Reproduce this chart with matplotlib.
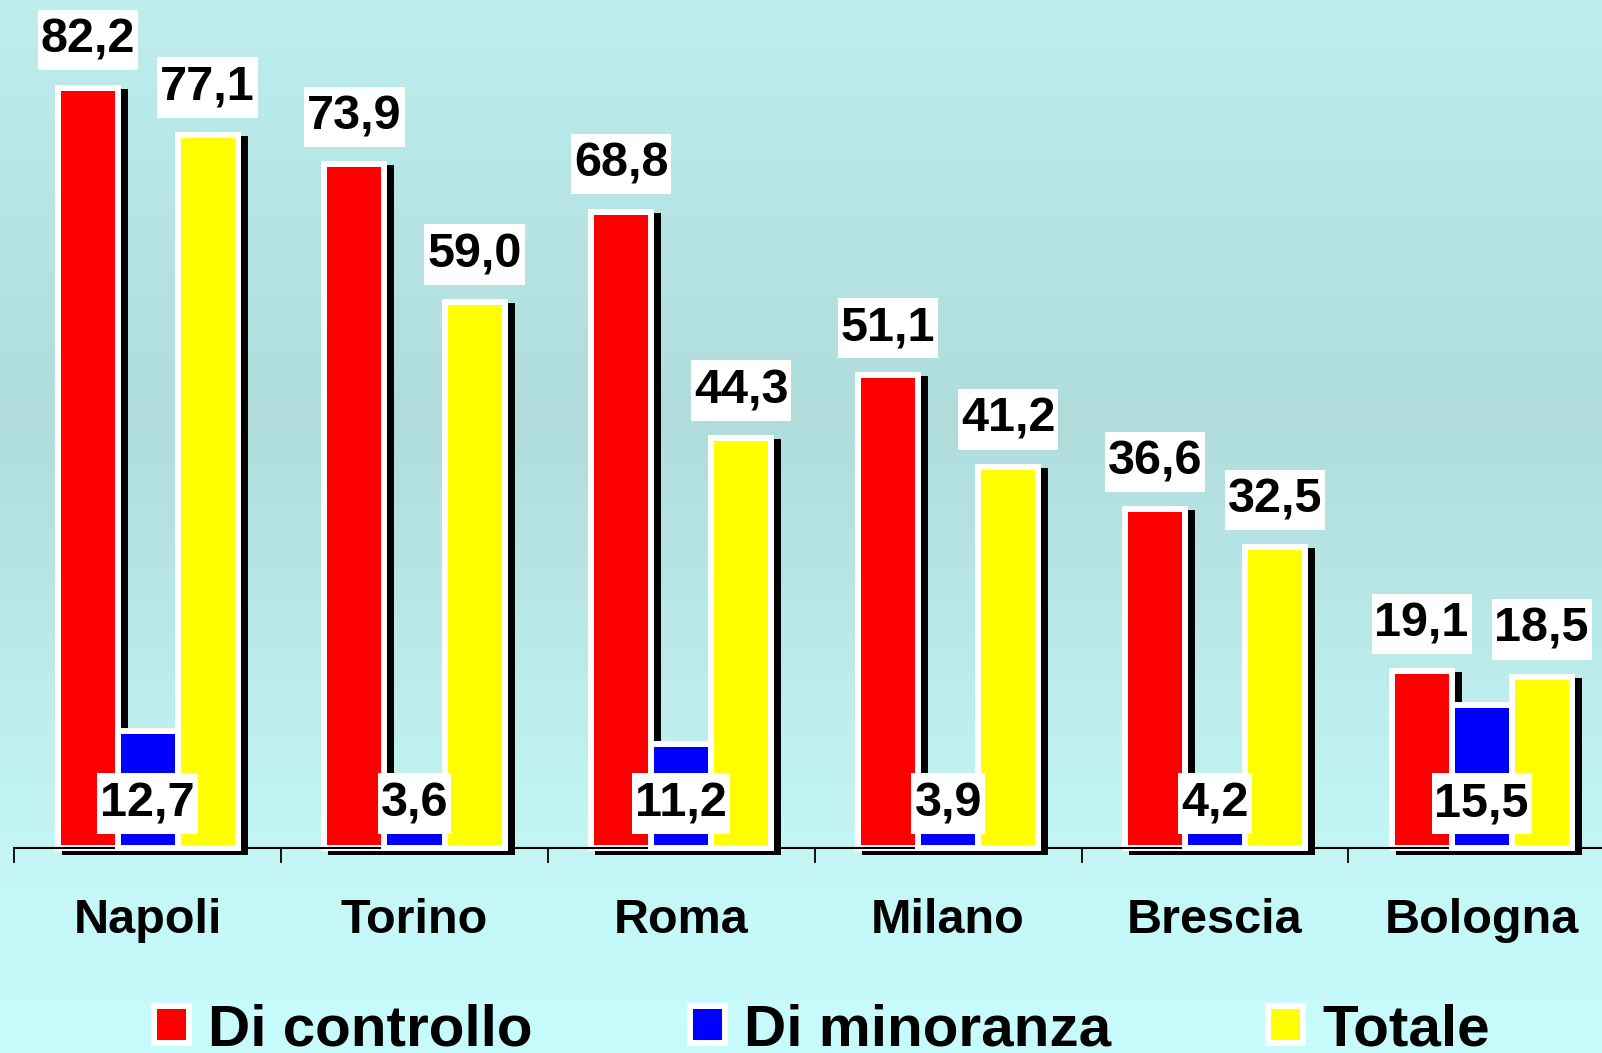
import matplotlib
matplotlib.use("Agg")
import matplotlib.pyplot as plt
import matplotlib.transforms as mtransforms
from matplotlib.path import Path
import numpy as np

categories = ["Napoli", "Torino", "Roma", "Milano", "Brescia", "Bologna"]
di_controllo = [82.2, 73.9, 68.8, 51.1, 36.6, 19.1]
di_minoranza = [12.7, 3.6, 11.2, 3.9, 4.2, 15.5]
totale = [77.1, 59.0, 44.3, 41.2, 32.5, 18.5]
series_names = ["Di controllo", "Di minoranza", "Totale"]
series_colors = ["#FF0000", "#0000FF", "#FFFF00"]

plt.rcParams['font.family'] = ['Liberation Sans', 'DejaVu Sans']
plt.rcParams['font.weight'] = 'bold'

W, H = 1602, 1053
fig = plt.figure(figsize=(W / 100, H / 100), dpi=100)

# background gradient
bg = fig.add_axes([0, 0, 1, 1], zorder=-10)
stops_y = np.array([0, 420, 848, 1053]) / H
stops_c = np.array([[190, 238, 238], [176, 220, 220], [196, 246, 246], [200, 252, 252]]) / 255
yy = np.linspace(0, 1, 512)
grad = np.stack([np.interp(yy, stops_y, stops_c[:, k]) for k in range(3)], axis=-1)
bg.imshow(grad[:, None, :], aspect='auto', extent=[0, 1, 1, 0])
bg.set_axis_off()

base_px = 848
left_px = 14.3
unit_px = 266.8
ax = fig.add_axes([left_px / W, (H - base_px) / H, 1 - left_px / W, base_px / H])
ax.patch.set_alpha(0)

x = np.arange(len(categories))
bw = 0.225
offsets = [-bw, 0, bw]
data = [di_controllo, di_minoranza, totale]
shadow_tr = mtransforms.offset_copy(ax.transData, fig=fig, x=7, y=-4, units='dots')
edge_lw = 4.3

containers = []
for i, (vals, col) in enumerate(zip(data, series_colors)):
    sh = ax.bar(x + offsets[i], vals, bw, color='black', edgecolor='black',
                linewidth=edge_lw, zorder=1 + 2 * i, clip_on=False)
    for p in sh:
        p.set_transform(shadow_tr)
    b = ax.bar(x + offsets[i], vals, bw, color=col, edgecolor='white',
               linewidth=edge_lw, zorder=2 + 2 * i, clip_on=False, label=series_names[i])
    containers.append(b)


def label_box(x0, y0, width, height, mutation_size):
    px = 0.06 * mutation_size
    py = 0.16 * mutation_size
    xa, xb = x0 - px, x0 + width + px
    ya, yb = y0 - py, y0 + height + py
    return Path([(xa, ya), (xb, ya), (xb, yb), (xa, yb), (xa, ya)], closed=True)


box = dict(boxstyle=label_box, fc='white', ec='none')
for i, vals in enumerate(data):
    for xi, v in zip(x, vals):
        lab = f"{v:.1f}".replace('.', ',')
        if i == 1:
            ax.annotate(lab, (xi + offsets[i], 0), xytext=(0, 32), textcoords='offset points',
                        ha='center', va='center', fontsize=35, fontweight='bold',
                        bbox=box, zorder=20, annotation_clip=False)
        else:
            ax.annotate(lab, (xi + offsets[i], v), xytext=(0, 18), textcoords='offset points',
                        ha='center', va='bottom', fontsize=35, fontweight='bold',
                        bbox=box, zorder=20, annotation_clip=False)

for s in ['top', 'right', 'left']:
    ax.spines[s].set_visible(False)
ax.spines['bottom'].set_linewidth(1.5)
ax.set_yticks([])
ax.set_xticks(x)
ax.set_xticklabels(categories, fontsize=35, fontweight='bold')
ax.set_xticks(np.arange(-0.5, 6, 1.0), minor=True)
ax.tick_params(axis='x', which='major', length=0, pad=36)
ax.tick_params(axis='x', which='minor', length=11, width=1.3, direction='out')

xmax = -0.5 + (W - left_px) / unit_px
ax.set_xlim(-0.5, xmax)
ax.set_ylim(0, base_px / 9.25)

fig.legend(handles=containers, labels=series_names, loc='center left',
           bbox_to_anchor=(154 / W, (H - 1030) / H), ncol=3, frameon=False,
           prop={'weight': 'bold', 'size': 42},
           handlelength=0.6, handleheight=0.6, handletextpad=0.33,
           columnspacing=2.69, borderpad=0, borderaxespad=0)

fig.savefig("out.png", dpi=100)
